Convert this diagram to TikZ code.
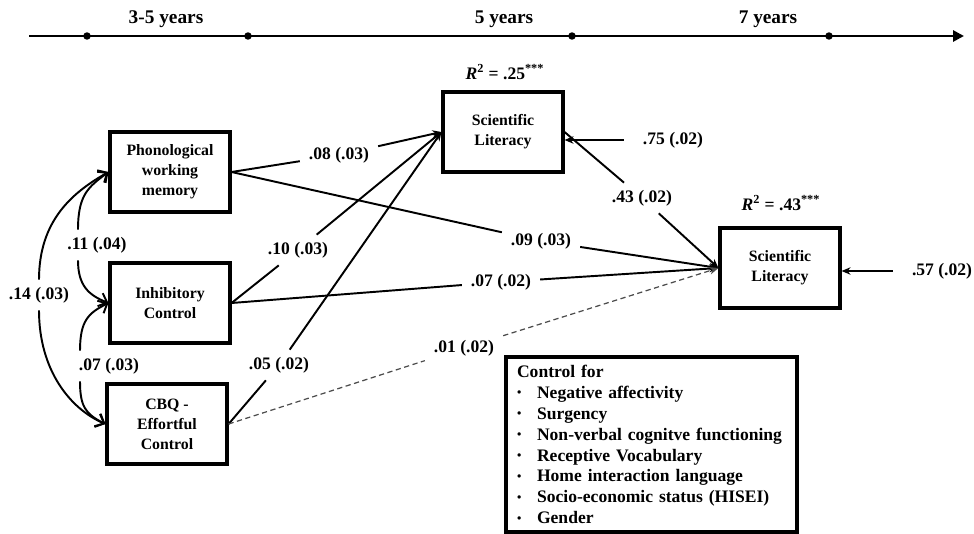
\documentclass[tikz,border=0pt]{standalone}
\usepackage{fontspec}
\setmainfont{Liberation Serif}
\usepackage{tikz}
\usetikzlibrary{arrows.meta,positioning,calc}

\newcommand{\ctrlitem}{\makebox[0.4cm][l]{\raisebox{0.8pt}{\fontsize{7}{7}\selectfont\textbullet}}}

\begin{document}
\begin{tikzpicture}[
  x=0.02cm,y=-0.02cm,
  font=\bfseries,
  >={Stealth[length=1.8mm,width=1.5mm]},
  box/.style={draw,line width=1.8pt,minimum width=2.4cm,minimum height=1.6cm,align=center,
    font=\fontsize{9}{11.3}\selectfont\bfseries},
  coef/.style={inner xsep=5pt,inner ysep=4pt,font=\fontsize{10}{12}\selectfont\bfseries},
  rsq/.style={font=\fontsize{10}{12}\selectfont\bfseries},
  age/.style={font=\fontsize{11}{13}\selectfont\bfseries},
  dot/.style={circle,fill,inner sep=0pt,minimum size=0.15cm},
  reg/.style={line width=1.1pt},
  ns/.style={line width=0.7pt,dash pattern=on 3pt off 2pt,black!70},
  cov/.style={line width=1.1pt,-{Straight Barb[length=1.5mm,width=2.8mm]}},
  timeline/.style={line width=1.6pt,-{Triangle[length=2.2mm,width=2.2mm]}}
]
\useasboundingbox (0,0) rectangle (974,534);

% ---- time axis ----
\coordinate (t0) at (29,36);
\coordinate (t1) at (964,36);
\draw[timeline] (t0) -- (t1);
\foreach \x/\n in {87/d1,248/d2,572/d3,829/d4}
  \node[dot] (\n) at (\x,36) {};
\node[age] (a35) at (166,19) {3-5 years};
\node[age] (a5) at (504,19) {5 years};
\node[age] (a7) at (768,19) {7 years};

% ---- boxes ----
\node[box] (pwm) at (170,172) {Phonological\\working\\memory};
\node[box] (ic) at (170,303) {Inhibitory\\Control};
\node[box] (cbq) at (167,424) {CBQ -\\Effortful\\Control};
\node[box] (sl5) at (503,132) {Scientific\\Literacy};
\node[box] (sl7) at (780,268) {Scientific\\Literacy};

\node[rsq] (r5) at (505,72) {\textit{R}\textsuperscript{2} = .25\textsuperscript{***}};
\node[rsq] (r7) at (781,203) {\textit{R}\textsuperscript{2} = .43\textsuperscript{***}};

% ---- coefficients ----
\node[coef] (c08) at (339,155) {.08 (.03)};
\node[coef] (c09) at (541,241) {.09 (.03)};
\node[coef] (c10) at (298,250) {.10 (.03)};
\node[coef] (c07) at (501,282) {.07 (.02)};
\node[coef] (c05) at (279,365) {.05 (.02)};
\node[coef] (c01) at (464,348) {.01 (.02)};
\node[coef] (c43) at (642,198) {.43 (.02)};
\node[coef] (c75) at (673,140) {.75 (.02)};
\node[coef] (c57) at (942,271) {.57 (.02)};
\node[coef] (c14) at (39,295) {.14 (.03)};
\node[coef] (c11) at (97,245) {.11 (.04)};
\node[coef] (c07b) at (109,366) {.07 (.03)};

% ---- paths to 5 years ----
\draw[reg] (pwm.east) -- (c08);
\draw[reg,->] (c08) -- (sl5.west);
\draw[reg] (ic.east) -- (c10);
\draw[reg,->] (c10) -- (sl5.west);
\draw[reg] (cbq.east) -- (c05);
\draw[reg,->] (c05) -- (sl5.west);

% ---- paths to 7 years ----
\draw[reg] (pwm.east) -- (c09);
\draw[reg,->] (c09) -- (sl7.west);
\draw[reg] (ic.east) -- (c07);
\draw[reg,->] (c07) -- (sl7.west);
\draw[ns] (cbq.east) -- (c01);
\draw[ns,->] (c01) -- (sl7.west);
\draw[reg] (sl5.east) -- (c43);
\draw[reg,->] (c43) -- (sl7.west);

% ---- residuals ----
\draw[reg,->] ([xshift=-0.2cm]c75.west) -- (c75.west -| sl5.east);
\draw[reg,->] ([xshift=-0.2cm]c57.west) -- (c57.west -| sl7.east);

% ---- correlations (left side) ----
\draw[cov] (c14.north) .. controls +(0,-60) and +(-35,20) .. (pwm.west);
\draw[cov] (c14.south) .. controls +(0,60) and +(-35,-15) .. (cbq.west);
\draw[cov] ([xshift=-0.38cm]c11.north) .. controls +(0,-35) and +(-20,15) .. (pwm.west);
\draw[cov] ([xshift=-0.38cm]c11.south) .. controls +(0,25) and +(-20,-8) .. (ic.west);
\draw[cov] ([xshift=-0.58cm]c07b.north) .. controls +(0,-30) and +(-20,10) .. (ic.west);
\draw[cov] ([xshift=-0.58cm]c07b.south) .. controls +(0,25) and +(-20,-10) .. (cbq.west);

% ---- covariates ----
\node[draw,line width=1.8pt,minimum width=5.82cm,minimum height=3.5cm,text width=5.38cm,
  inner xsep=0.22cm,inner ysep=3pt,align=left,font=\fontsize{10}{11.9}\selectfont\bfseries]
  (ctrl) at (651.5,444.5) {Control for\\
  \ctrlitem Negative affectivity\\
  \ctrlitem Surgency\\
  \ctrlitem Non-verbal cognitve functioning\\
  \ctrlitem Receptive Vocabulary\\
  \ctrlitem Home interaction language\\
  \ctrlitem Socio-economic status (HISEI)\\
  \ctrlitem Gender};

\end{tikzpicture}
\end{document}
